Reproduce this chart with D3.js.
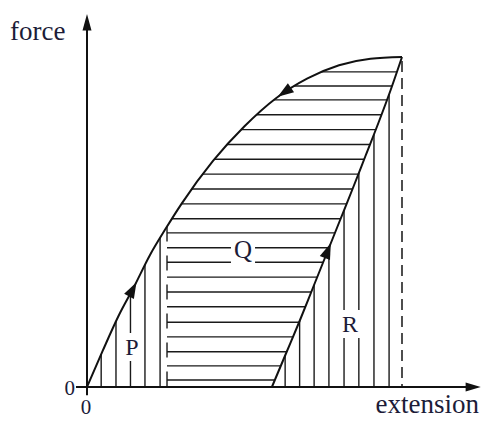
<!DOCTYPE html>
<html>
<head>
<meta charset="utf-8">
<script src="https://cdn.jsdelivr.net/npm/d3@7"></script>
<style>
  body { margin: 0; background: #fff; }
  svg { display: block; }
  text { font-family: "Liberation Serif", "Times New Roman", serif; fill: #1c1c38; }
</style>
</head>
<body>
<svg width="485" height="421"></svg>
<script>
// loading curve (extension, force), peak at (100, 100)
const loadExt   = [0, 5, 10, 15, 20, 25, 30, 40, 50, 60, 70, 80, 90, 100];
const loadForce = [0, 11, 21.5, 30.5, 40, 48, 55.5, 68.5, 79, 87.5, 93.5, 97.5, 99.5, 100];

// unloading curve, from the peak down to the permanent extension
const unloadExt   = [100, 96.4, 92.5, 88.4, 84.3, 80.1, 75.9, 71.7, 67.5, 63.1, 58.7];
const unloadForce = [100, 90, 80, 70, 60, 50, 40, 30, 20, 10, 0];

// hatching
const hatchP = [4.5, 9.2, 13.8, 18.4, 23.2];          // vertical lines, area P
const edgeQ = 25.4;                                     // left edge of area Q
const hatchQ = [95.5, 91.2, 87, 82.5, 78, 73.5, 69, 64.5, 60, 55.5, 51,
                46.7, 42.2, 37.8, 33.3, 28.8, 24.3, 19.6, 15.2, 10.7, 6.4, 2.1]; // horizontal, area Q
const hatchR = [62.9, 67.5, 72.1, 76.8, 81.6, 86.3, 91.1, 95.9]; // vertical lines, area R
const peakExt = 100;

const svg = d3.select("svg");
const x = d3.scaleLinear().domain([0, 100]).range([87, 402]);
const y = d3.scaleLinear().domain([0, 100]).range([387, 57]);

const loadPts = loadExt.map((e, i) => [e, loadForce[i]]);
const unloadPts = unloadExt.map((e, i) => [e, unloadForce[i]]);

const line = d3.line().x(d => x(d[0])).y(d => y(d[1])).curve(d3.curveMonotoneX);

const gHatch = svg.append("g").attr("stroke", "#1a1a1a").attr("stroke-width", 1.4);
const gCurves = svg.append("g");

// curves
const loadPath = gCurves.append("path")
  .attr("d", line(loadPts))
  .attr("fill", "none").attr("stroke", "#111").attr("stroke-width", 2);
const unloadPath = gCurves.append("path")
  .attr("d", line(unloadPts.slice().reverse()))
  .attr("fill", "none").attr("stroke", "#111").attr("stroke-width", 2);

// sample a path into points so hatching can end on the curve
function sample(path) {
  const node = path.node(), len = node.getTotalLength(), pts = [];
  for (let s = 0; s <= len; s += 0.5) {
    const p = node.getPointAtLength(s);
    pts.push([p.x, p.y]);
  }
  return pts;
}
const loadS = sample(loadPath);
const unloadS = sample(unloadPath);

function yAtX(pts, px) {
  for (let i = 1; i < pts.length; i++) {
    const a = pts[i - 1], b = pts[i];
    if ((a[0] - px) * (b[0] - px) <= 0 && a[0] !== b[0]) {
      return a[1] + (b[1] - a[1]) * (px - a[0]) / (b[0] - a[0]);
    }
  }
  return null;
}
function xAtY(pts, py) {
  for (let i = 1; i < pts.length; i++) {
    const a = pts[i - 1], b = pts[i];
    if ((a[1] - py) * (b[1] - py) <= 0 && a[1] !== b[1]) {
      return a[0] + (b[0] - a[0]) * (py - a[1]) / (b[1] - a[1]);
    }
  }
  return null;
}

// P: vertical lines under the loading curve
hatchP.forEach(e => {
  gHatch.append("line")
    .attr("x1", x(e)).attr("x2", x(e))
    .attr("y1", y(0)).attr("y2", yAtX(loadS, x(e)));
});

// Q left edge, broken
gHatch.append("line")
  .attr("x1", x(edgeQ)).attr("x2", x(edgeQ))
  .attr("y1", yAtX(loadS, x(edgeQ))).attr("y2", y(0))
  .attr("stroke-dasharray", "15,14");

// Q: horizontal lines between the curves
hatchQ.forEach(f => {
  const py = y(f);
  const left = Math.max(xAtY(loadS, py), x(edgeQ));
  const right = xAtY(unloadS, py);
  gHatch.append("line")
    .attr("x1", left).attr("x2", right)
    .attr("y1", py).attr("y2", py);
});

// R: vertical lines under the unloading curve
hatchR.forEach(e => {
  gHatch.append("line")
    .attr("x1", x(e)).attr("x2", x(e))
    .attr("y1", y(0)).attr("y2", yAtX(unloadS, x(e)));
});

// dashed line below the peak
svg.append("line")
  .attr("x1", x(peakExt)).attr("x2", x(peakExt))
  .attr("y1", y(100) + 4).attr("y2", y(0))
  .attr("stroke", "#222").attr("stroke-width", 1.6)
  .attr("stroke-dasharray", "11,6");

// arrowheads along the curves
function arrowOn(pts, px, py, sign) {
  let best = 0, bd = Infinity;
  pts.forEach((p, i) => {
    const d = (p[0] - px) ** 2 + (p[1] - py) ** 2;
    if (d < bd) { bd = d; best = i; }
  });
  const a = pts[Math.max(best - 6, 0)], b = pts[Math.min(best + 6, pts.length - 1)];
  let dx = b[0] - a[0], dy = b[1] - a[1];
  const n = Math.hypot(dx, dy);
  dx = dx / n * sign; dy = dy / n * sign;
  const c = pts[best], L = 8, W = 5.5;
  const tip = [c[0] + dx * L, c[1] + dy * L];
  const b1 = [c[0] - dx * L + -dy * W, c[1] - dy * L + dx * W];
  const b2 = [c[0] - dx * L - -dy * W, c[1] - dy * L - dx * W];
  svg.append("path")
    .attr("d", `M${tip}L${b1}L${b2}Z`)
    .attr("fill", "#111");
}
arrowOn(loadS, x(13.8), y(30), 1);     // up along loading curve
arrowOn(loadS, x(62.2), y(90), -1);    // on upper curve
arrowOn(unloadS, x(76.2), y(41.5), 1); // on unloading curve

// axes
const axes = svg.append("g").attr("stroke", "#111").attr("stroke-width", 2);
axes.append("line")
  .attr("x1", x(0)).attr("x2", x(0))
  .attr("y1", y(-2.5)).attr("y2", y(109));
axes.append("line")
  .attr("x1", x(-3.5)).attr("x2", x(121))
  .attr("y1", y(0)).attr("y2", y(0));
svg.append("path")
  .attr("d", `M${x(0)},${y(113)}L${x(0) - 4.5},${y(108)}L${x(0) + 4.5},${y(108)}Z`)
  .attr("fill", "#111");
svg.append("path")
  .attr("d", `M${x(125)},${y(0)}L${x(120.2)},${y(0) - 4.5}L${x(120.2)},${y(0) + 4.5}Z`)
  .attr("fill", "#111");

// labels, with a white patch that breaks the hatching
function label(txt, cx, by, size) {
  const t = svg.append("text")
    .attr("x", cx).attr("y", by)
    .attr("text-anchor", "middle")
    .attr("font-size", size)
    .text(txt);
  const bb = t.node().getBBox();
  svg.insert("rect", "text")
    .attr("x", bb.x - 3).attr("y", bb.y - 1)
    .attr("width", bb.width + 6).attr("height", bb.height + 2)
    .attr("fill", "#fff");
}
label("P", 132, 355, 24);
label("Q", 243, 258, 25);
label("R", 350, 332, 24);

svg.append("text").attr("x", 10).attr("y", 40).attr("font-size", 27).text("force");
svg.append("text").attr("x", 479).attr("y", 413).attr("font-size", 27)
  .attr("text-anchor", "end").text("extension");
svg.append("text").attr("x", 75).attr("y", 395).attr("font-size", 21)
  .attr("text-anchor", "end").text("0");
svg.append("text").attr("x", 86).attr("y", 414).attr("font-size", 21)
  .attr("text-anchor", "middle").text("0");
</script>
</body>
</html>
